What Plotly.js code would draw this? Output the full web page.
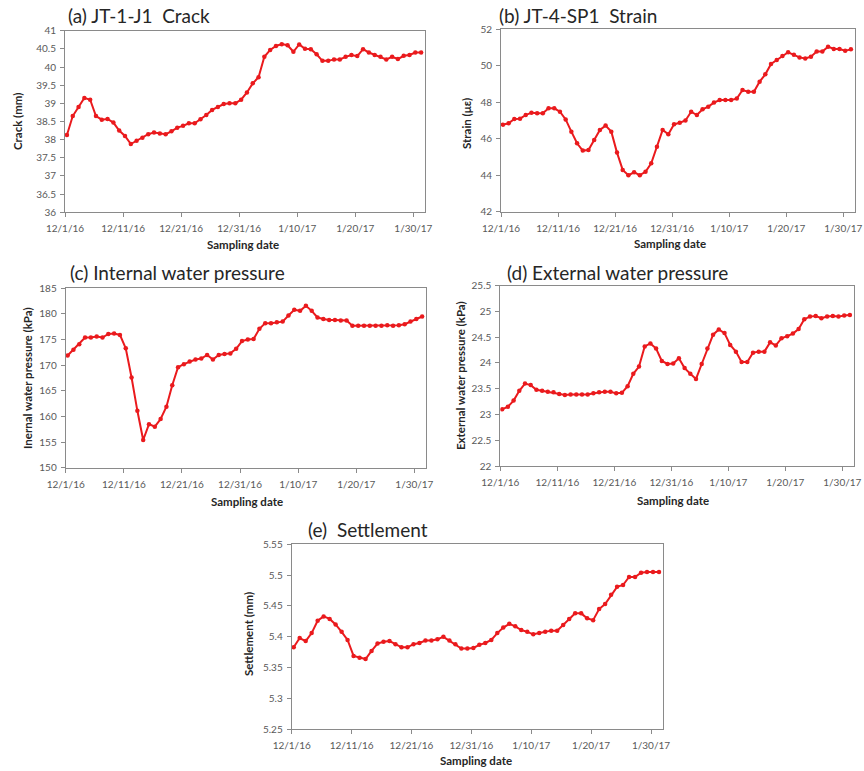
<!DOCTYPE html>
<html>
<head>
<meta charset="utf-8">
<script src="https://cdn.plot.ly/plotly-3.0.1.min.js"></script>
<style>
html,body{margin:0;padding:0;background:#fff;}
#chart{width:864px;height:771px;}
</style>
</head>
<body>
<div id="chart"></div>
<script>
// Sampling dates (one reading per day)
const dates = [
 '2016-12-01 08:00','2016-12-02 08:00','2016-12-03 08:00','2016-12-04 08:00','2016-12-05 08:00','2016-12-06 08:00','2016-12-07 08:00','2016-12-08 08:00','2016-12-09 08:00','2016-12-10 08:00',
 '2016-12-11 08:00','2016-12-12 08:00','2016-12-13 08:00','2016-12-14 08:00','2016-12-15 08:00','2016-12-16 08:00','2016-12-17 08:00','2016-12-18 08:00','2016-12-19 08:00','2016-12-20 08:00',
 '2016-12-21 08:00','2016-12-22 08:00','2016-12-23 08:00','2016-12-24 08:00','2016-12-25 08:00','2016-12-26 08:00','2016-12-27 08:00','2016-12-28 08:00','2016-12-29 08:00','2016-12-30 08:00',
 '2016-12-31 08:00','2017-01-01 08:00','2017-01-02 08:00','2017-01-03 08:00','2017-01-04 08:00','2017-01-05 08:00','2017-01-06 08:00','2017-01-07 08:00','2017-01-08 08:00','2017-01-09 08:00',
 '2017-01-10 08:00','2017-01-11 08:00','2017-01-12 08:00','2017-01-13 08:00','2017-01-14 08:00','2017-01-15 08:00','2017-01-16 08:00','2017-01-17 08:00','2017-01-18 08:00','2017-01-19 08:00',
 '2017-01-20 08:00','2017-01-21 08:00','2017-01-22 08:00','2017-01-23 08:00','2017-01-24 08:00','2017-01-25 08:00','2017-01-26 08:00','2017-01-27 08:00','2017-01-28 08:00','2017-01-29 08:00',
 '2017-01-30 08:00','2017-01-31 08:00'
];

// (a) JT-1-J1 crack (mm)
const crack = [38.13,38.65,38.9,39.15,39.1,38.65,38.55,38.57,38.47,38.25,
 38.1,37.88,37.97,38.05,38.15,38.2,38.17,38.15,38.23,38.33,
 38.38,38.45,38.45,38.56,38.68,38.82,38.9,38.98,39.0,39.0,
 39.1,39.3,39.55,39.72,40.28,40.47,40.58,40.63,40.6,40.42,
 40.62,40.5,40.49,40.35,40.17,40.17,40.21,40.21,40.28,40.33,
 40.3,40.49,40.4,40.33,40.28,40.21,40.28,40.22,40.31,40.33,
 40.4,40.4];

// (b) JT-4-SP1 strain (με)
const strain = [46.77,46.85,47.08,47.1,47.3,47.43,47.4,47.4,47.67,47.67,
 47.48,47.06,46.39,45.75,45.35,45.38,45.93,46.48,46.72,46.39,
 45.24,44.29,44.0,44.16,44.0,44.19,44.65,45.56,46.48,46.24,
 46.79,46.88,47.0,47.48,47.3,47.61,47.76,47.98,48.12,48.12,
 48.12,48.2,48.67,48.58,48.58,49.13,49.53,50.1,50.32,50.54,
 50.74,50.6,50.46,50.4,50.5,50.78,50.78,51.05,50.92,50.92,
 50.83,50.9];

// (c) internal water pressure (kPa)
const pressureIn = [171.9,173.0,174.1,175.4,175.4,175.6,175.4,176.1,176.2,175.9,
 173.3,167.6,161.1,155.4,158.5,158.0,159.5,161.9,166.1,169.6,
 170.2,170.7,171.1,171.3,172.0,171.1,172.0,172.2,172.3,173.2,
 174.7,175.0,175.1,177.1,178.2,178.2,178.4,178.5,179.7,180.8,
 180.6,181.6,180.6,179.3,179.0,178.8,178.8,178.7,178.7,177.7,
 177.7,177.7,177.7,177.7,177.7,177.8,177.7,177.8,178.0,178.5,
 179.0,179.5];

// (d) external water pressure (kPa)
const pressureEx = [23.1,23.15,23.27,23.46,23.6,23.57,23.48,23.46,23.44,23.43,
 23.4,23.38,23.39,23.39,23.39,23.39,23.41,23.43,23.44,23.44,
 23.41,23.42,23.55,23.79,23.93,24.32,24.38,24.28,24.04,23.98,
 23.99,24.09,23.9,23.79,23.69,23.98,24.28,24.55,24.65,24.58,
 24.35,24.22,24.02,24.02,24.2,24.22,24.22,24.4,24.34,24.48,
 24.52,24.57,24.66,24.85,24.9,24.91,24.87,24.9,24.91,24.9,
 24.92,24.93];

// (e) settlement (mm)
const settlement = [5.383,5.398,5.393,5.406,5.426,5.433,5.429,5.42,5.408,5.395,
 5.369,5.366,5.364,5.377,5.389,5.392,5.393,5.388,5.383,5.383,
 5.388,5.39,5.394,5.394,5.396,5.4,5.394,5.388,5.381,5.381,
 5.382,5.387,5.39,5.395,5.406,5.415,5.421,5.417,5.411,5.408,
 5.404,5.406,5.408,5.41,5.41,5.419,5.429,5.438,5.438,5.43,
 5.427,5.445,5.453,5.468,5.481,5.484,5.497,5.497,5.504,5.505,
 5.505,5.505];

// x tick positions and labels
const xTickVals = ['2016-12-01','2016-12-11','2016-12-21','2016-12-31','2017-01-10','2017-01-20','2017-01-30'];
const xTickText = ['12/1/16','12/11/16','12/21/16','12/31/16','1/10/17','1/20/17','1/30/17'];
const xRange = ['2016-12-01','2017-02-01'];

const panelTitles = ['(a) JT-1-J1  Crack','(b) JT-4-SP1  Strain','(c) Internal water pressure','(d) External water pressure','(e)  Settlement'];
const yTitles = ['Crack (mm)','Strain (με)','Inernal water pressure (kPa)','External water pressure (kPa)','Settlement (mm)'];
const xTitle = 'Sampling date';
const yRanges = [[36,41],[42,52],[150,185],[22,25.5],[5.25,5.55]];
const yDticks = [0.5,2,5,0.5,0.05];

const W = 864, H = 771;
// plot areas in pixels: [left, right, top, bottom]
const boxes = [
  [65, 425, 30.7, 212.3],
  [501, 854.7, 29.3, 211.7],
  [65.7, 426, 288.3, 467.7],
  [500.3, 853.7, 285.7, 466],
  [291.7, 663, 544.3, 729.3]
];
const titlePos = [[66,15],[497,15],[68,272],[505,272],[306,529]];
const yTitlePos = [[17,122],[467,124],[27,378],[460,376],[248,634]];
const xTitlePos = [[243,244],[670,243],[247,501],[673,500],[476,760]];

const series = [crack, strain, pressureIn, pressureEx, settlement];
const red = '#ea1a1d';
const axisColor = '#8a8a8a';
const tickFont = {family:'Lato, Open Sans, sans-serif', size:10, color:'#595959'};

const traces = [];
const layout = {
  width: W, height: H,
  margin: {l:0, r:0, t:0, b:0},
  paper_bgcolor:'#fff', plot_bgcolor:'#fff',
  showlegend:false,
  annotations: []
};

for (let i = 0; i < 5; i++) {
  const n = i === 0 ? '' : String(i+1);
  traces.push({
    x: dates, y: series[i], type:'scatter', mode:'lines+markers',
    xaxis: 'x'+n, yaxis: 'y'+n,
    line:{color:red, width:2},
    marker:{color:red, size:4.5, symbol:'circle'},
    hoverinfo:'x+y'
  });
  const b = boxes[i];
  layout['xaxis'+n] = {
    domain:[b[0]/W, b[1]/W], anchor:'y'+n, type:'date',
    range: xRange, tickvals: xTickVals, ticktext: xTickText,
    showline:true, linecolor:axisColor, linewidth:1, mirror:true,
    ticks:'outside', ticklen:4, tickcolor:axisColor, ticklabelstandoff:3,
    showgrid:false, zeroline:false, tickfont: tickFont
  };
  layout['yaxis'+n] = {
    domain:[1-b[3]/H, 1-b[2]/H], anchor:'x'+n,
    range: yRanges[i], dtick: yDticks[i], tick0: yRanges[i][0], tickformat:'~g',
    showline:true, linecolor:axisColor, linewidth:1, mirror:true,
    ticks:'outside', ticklen:4, tickcolor:axisColor, ticklabelstandoff:2,
    showgrid:false, zeroline:false, tickfont: tickFont
  };
  layout.annotations.push({
    text: panelTitles[i], xref:'paper', yref:'paper',
    x: titlePos[i][0]/W, y: 1-titlePos[i][1]/H, xanchor:'left', yanchor:'middle',
    showarrow:false, font:{family:'Lato, Open Sans, sans-serif', size:19, color:'#262626'}
  });
  layout.annotations.push({
    text: '<b>'+yTitles[i]+'</b>', xref:'paper', yref:'paper', textangle:-90,
    x: yTitlePos[i][0]/W, y: 1-yTitlePos[i][1]/H, xanchor:'center', yanchor:'middle',
    showarrow:false, font:{family:'Lato, Open Sans, sans-serif', size:11.5, color:'#262626'}
  });
  layout.annotations.push({
    text: '<b>'+xTitle+'</b>', xref:'paper', yref:'paper',
    x: xTitlePos[i][0]/W, y: 1-xTitlePos[i][1]/H, xanchor:'center', yanchor:'middle',
    showarrow:false, font:{family:'Lato, Open Sans, sans-serif', size:11.5, color:'#262626'}
  });
}

Plotly.newPlot('chart', traces, layout, {staticPlot:true, displayModeBar:false});
</script>
</body>
</html>
